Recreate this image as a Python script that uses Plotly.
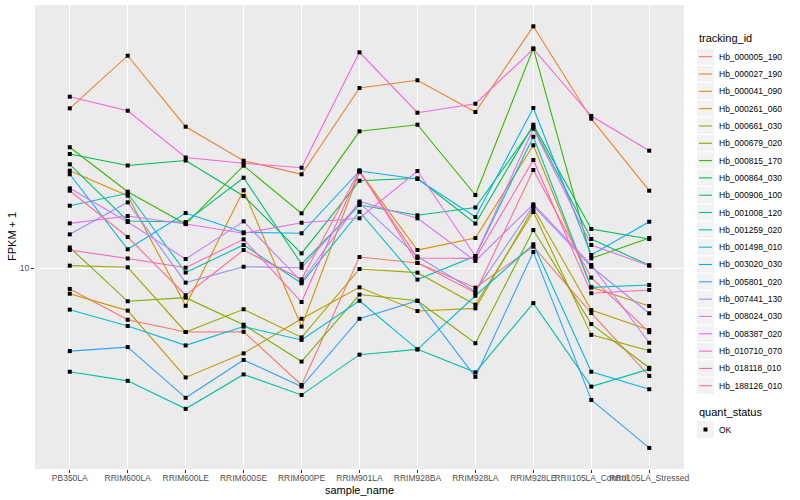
import plotly.graph_objects as go

samples = ["PB350LA", "RRIM600LA", "RRIM600LE", "RRIM600SE", "RRIM600PE", "RRIM901LA",
           "RRIM928BA", "RRIM928LA", "RRIM928LE", "RRII105LA_Control", "RRII105LA_Stressed"]

tracking_ids = ["Hb_000005_190", "Hb_000027_190", "Hb_000041_090", "Hb_000261_060", "Hb_000661_030",
                "Hb_000679_020", "Hb_000815_170", "Hb_000864_030", "Hb_000906_100", "Hb_001008_120",
                "Hb_001259_020", "Hb_001498_010", "Hb_003020_030", "Hb_005801_020", "Hb_007441_130",
                "Hb_008024_030", "Hb_008387_020", "Hb_010710_070", "Hb_018118_010", "Hb_188126_010"]

colors = ["#F8766D", "#EA8331", "#D89000", "#C09B00", "#A3A500", "#7CAE00", "#39B600", "#00BB4E",
          "#00BF7D", "#00C1A3", "#00BFC4", "#00BAE0", "#00B0F6", "#35A2FF", "#9590FF", "#C77CFF",
          "#E76BF3", "#FA62DB", "#FF62BC", "#FF6C91"]

quant_status = ["OK"]

# FPKM + 1 per sample
hb_000005_190 = [8.60, 6.89, 6.31, 6.32, 4.31, 10.82, 10.37, 8.68, 11.66, 7.23, 4.60]
hb_000027_190 = [31.55, 46.07, 27.64, 21.64, 19.63, 36.52, 38.60, 30.72, 56.92, 29.28, 17.44]
hb_000041_090 = [20.14, 16.82, 7.62, 17.50, 6.56, 20.00, 11.38, 12.41, 24.18, 8.70, 7.61]
hb_000261_060 = [8.31, 7.36, 4.55, 5.41, 6.94, 8.70, 7.34, 7.48, 15.37, 7.39, 6.40]
hb_000661_030 = [10.17, 10.05, 6.31, 7.43, 6.07, 9.93, 9.67, 7.68, 14.96, 6.18, 5.51]
hb_000679_020 = [11.59, 7.87, 8.08, 6.65, 5.10, 8.26, 7.90, 5.82, 13.14, 6.68, 4.88]
hb_000815_170 = [23.84, 17.31, 13.72, 20.88, 14.82, 26.74, 28.04, 16.91, 48.59, 10.72, 12.41]
hb_000864_030 = [22.71, 20.91, 21.67, 16.79, 11.11, 18.74, 19.07, 13.77, 28.04, 13.24, 12.32]
hb_000906_100 = [21.09, 14.03, 13.92, 19.15, 10.29, 15.73, 14.61, 15.46, 27.64, 12.32, 10.20]
hb_001008_120 = [4.74, 4.44, 3.63, 4.65, 4.01, 5.36, 5.57, 4.72, 7.77, 4.26, 4.83]
hb_001259_020 = [15.65, 17.12, 9.68, 11.80, 8.96, 14.99, 9.20, 10.90, 25.72, 8.70, 8.85]
hb_001498_010 = [7.41, 6.59, 5.73, 6.56, 5.96, 7.90, 5.57, 8.19, 11.86, 4.74, 4.18]
hb_003020_030 = [19.63, 11.44, 14.85, 12.93, 12.84, 20.10, 18.97, 14.43, 31.62, 10.98, 13.95]
hb_005801_020 = [5.50, 5.66, 3.93, 5.16, 4.26, 6.94, 7.90, 4.57, 11.22, 3.87, 2.74]
hb_007441_130 = [12.74, 16.04, 9.00, 10.09, 10.02, 15.97, 10.86, 8.45, 15.65, 10.09, 7.22]
hb_008024_030 = [17.74, 13.92, 10.67, 13.99, 9.06, 16.14, 14.30, 10.52, 15.81, 10.22, 5.84]
hb_008387_020 = [13.79, 14.54, 13.72, 12.84, 13.85, 14.30, 20.10, 10.90, 27.24, 11.80, 10.17]
hb_010710_070 = [34.30, 31.01, 22.15, 21.25, 20.58, 47.21, 30.57, 32.61, 48.35, 29.85, 23.26]
hb_018118_010 = [11.38, 10.71, 10.02, 12.29, 7.83, 20.00, 10.75, 10.72, 21.75, 8.34, 8.54]
hb_188126_010 = [17.44, 12.50, 8.22, 11.38, 9.22, 20.20, 10.37, 8.37, 20.24, 9.33, 6.30]

series = [hb_000005_190, hb_000027_190, hb_000041_090, hb_000261_060, hb_000661_030,
          hb_000679_020, hb_000815_170, hb_000864_030, hb_000906_100, hb_001008_120,
          hb_001259_020, hb_001498_010, hb_003020_030, hb_005801_020, hb_007441_130,
          hb_008024_030, hb_008387_020, hb_010710_070, hb_018118_010, hb_188126_010]

y_ticks = [10]
y_tick_labels = ["10"]

FONT = "Liberation Sans, Arial, sans-serif"
W, H = 800, 500
ML, MR, MT, MB = 35, 116, 5, 31
PW, PH = W - ML - MR, H - MT - MB


def px(x):
    return (x - ML) / PW


def py(y):
    return (H - MB - y) / PH


fig = go.Figure()
for name, col, vals in zip(tracking_ids, colors, series):
    fig.add_trace(go.Scatter(
        x=samples, y=vals, mode="lines", name=name, showlegend=False,
        line=dict(color=col, width=1.1),
    ))

all_x, all_y = [], []
for vals in series:
    all_x += samples
    all_y += vals
fig.add_trace(go.Scatter(
    x=all_x, y=all_y, mode="markers", name=quant_status[0], showlegend=False,
    marker=dict(symbol="square", size=4, color="black"),
))

shapes = []
annotations = []

# legend: tracking_id
annotations.append(dict(x=px(697), y=py(38), xref="paper", yref="paper", text="tracking_id",
                        showarrow=False, xanchor="left", yanchor="middle",
                        font=dict(size=11, color="black", family=FONT)))
key_top = 48.0
key_h = 17.32
for i, (name, col) in enumerate(zip(tracking_ids, colors)):
    y0 = key_top + i * key_h
    yc = y0 + key_h / 2
    shapes.append(dict(type="rect", xref="paper", yref="paper",
                       x0=px(697), x1=px(714), y0=py(y0 + 0.5), y1=py(y0 + key_h - 0.5),
                       fillcolor="#F2F2F2", line=dict(width=0), layer="above"))
    shapes.append(dict(type="line", xref="paper", yref="paper",
                       x0=px(699), x1=px(712), y0=py(yc), y1=py(yc),
                       line=dict(color=col, width=1.1), layer="above"))
    annotations.append(dict(x=px(717), y=py(yc), xref="paper", yref="paper", text=name,
                            showarrow=False, xanchor="left", yanchor="middle",
                            font=dict(size=8.5, color="black", family=FONT)))

# legend: quant_status
annotations.append(dict(x=px(697), y=py(411.5), xref="paper", yref="paper", text="quant_status",
                        showarrow=False, xanchor="left", yanchor="middle",
                        font=dict(size=11, color="black", family=FONT)))
ok_top = 421.0
shapes.append(dict(type="rect", xref="paper", yref="paper",
                   x0=px(697), x1=px(714), y0=py(ok_top), y1=py(ok_top + 17),
                   fillcolor="#F2F2F2", line=dict(width=0), layer="above"))
shapes.append(dict(type="rect", xref="paper", yref="paper",
                   x0=px(703.5), x1=px(707.5), y0=py(ok_top + 6.5), y1=py(ok_top + 10.5),
                   fillcolor="black", line=dict(width=0), layer="above"))
annotations.append(dict(x=px(717), y=py(ok_top + 8.5), xref="paper", yref="paper", text=quant_status[0],
                        showarrow=False, xanchor="left", yanchor="middle",
                        font=dict(size=8.5, color="black", family=FONT)))

# axis titles
annotations.append(dict(x=px(359), y=py(490), xref="paper", yref="paper", text="sample_name",
                        showarrow=False, xanchor="center", yanchor="middle",
                        font=dict(size=11, color="black", family=FONT)))
annotations.append(dict(x=px(12), y=py(237), xref="paper", yref="paper", text="FPKM + 1",
                        showarrow=False, xanchor="center", yanchor="middle", textangle=-90,
                        font=dict(size=11, color="black", family=FONT)))

fig.update_layout(
    width=W, height=H,
    margin=dict(l=ML, r=MR, t=MT, b=MB, autoexpand=False),
    paper_bgcolor="white", plot_bgcolor="#EBEBEB",
    font=dict(family=FONT, size=9, color="#4D4D4D"),
    showlegend=False,
    shapes=shapes,
    annotations=annotations,
)
fig.update_xaxes(
    type="category", range=[-0.6, 10.6],
    showgrid=True, gridcolor="white", gridwidth=1.1,
    ticks="outside", ticklen=3, tickcolor="#333333", tickwidth=1,
    tickfont=dict(size=8.5, color="#4D4D4D"), tickangle=0,
    zeroline=False, showline=False, automargin=False,
)
try:
    fig.update_xaxes(ticklabelstandoff=-2)
except Exception:
    pass
fig.update_yaxes(
    type="log", range=[0.371875, 1.821875],
    tickvals=y_ticks, ticktext=y_tick_labels,
    showgrid=True, gridcolor="white", gridwidth=1.1,
    ticks="outside", ticklen=3, tickcolor="#333333", tickwidth=1,
    tickfont=dict(size=8.5, color="#4D4D4D"),
    zeroline=False, showline=False, automargin=False,
)

fig.write_html("out.html", config={"displayModeBar": False},
               post_script="document.body.style.margin='0';document.body.style.overflow='hidden';")
